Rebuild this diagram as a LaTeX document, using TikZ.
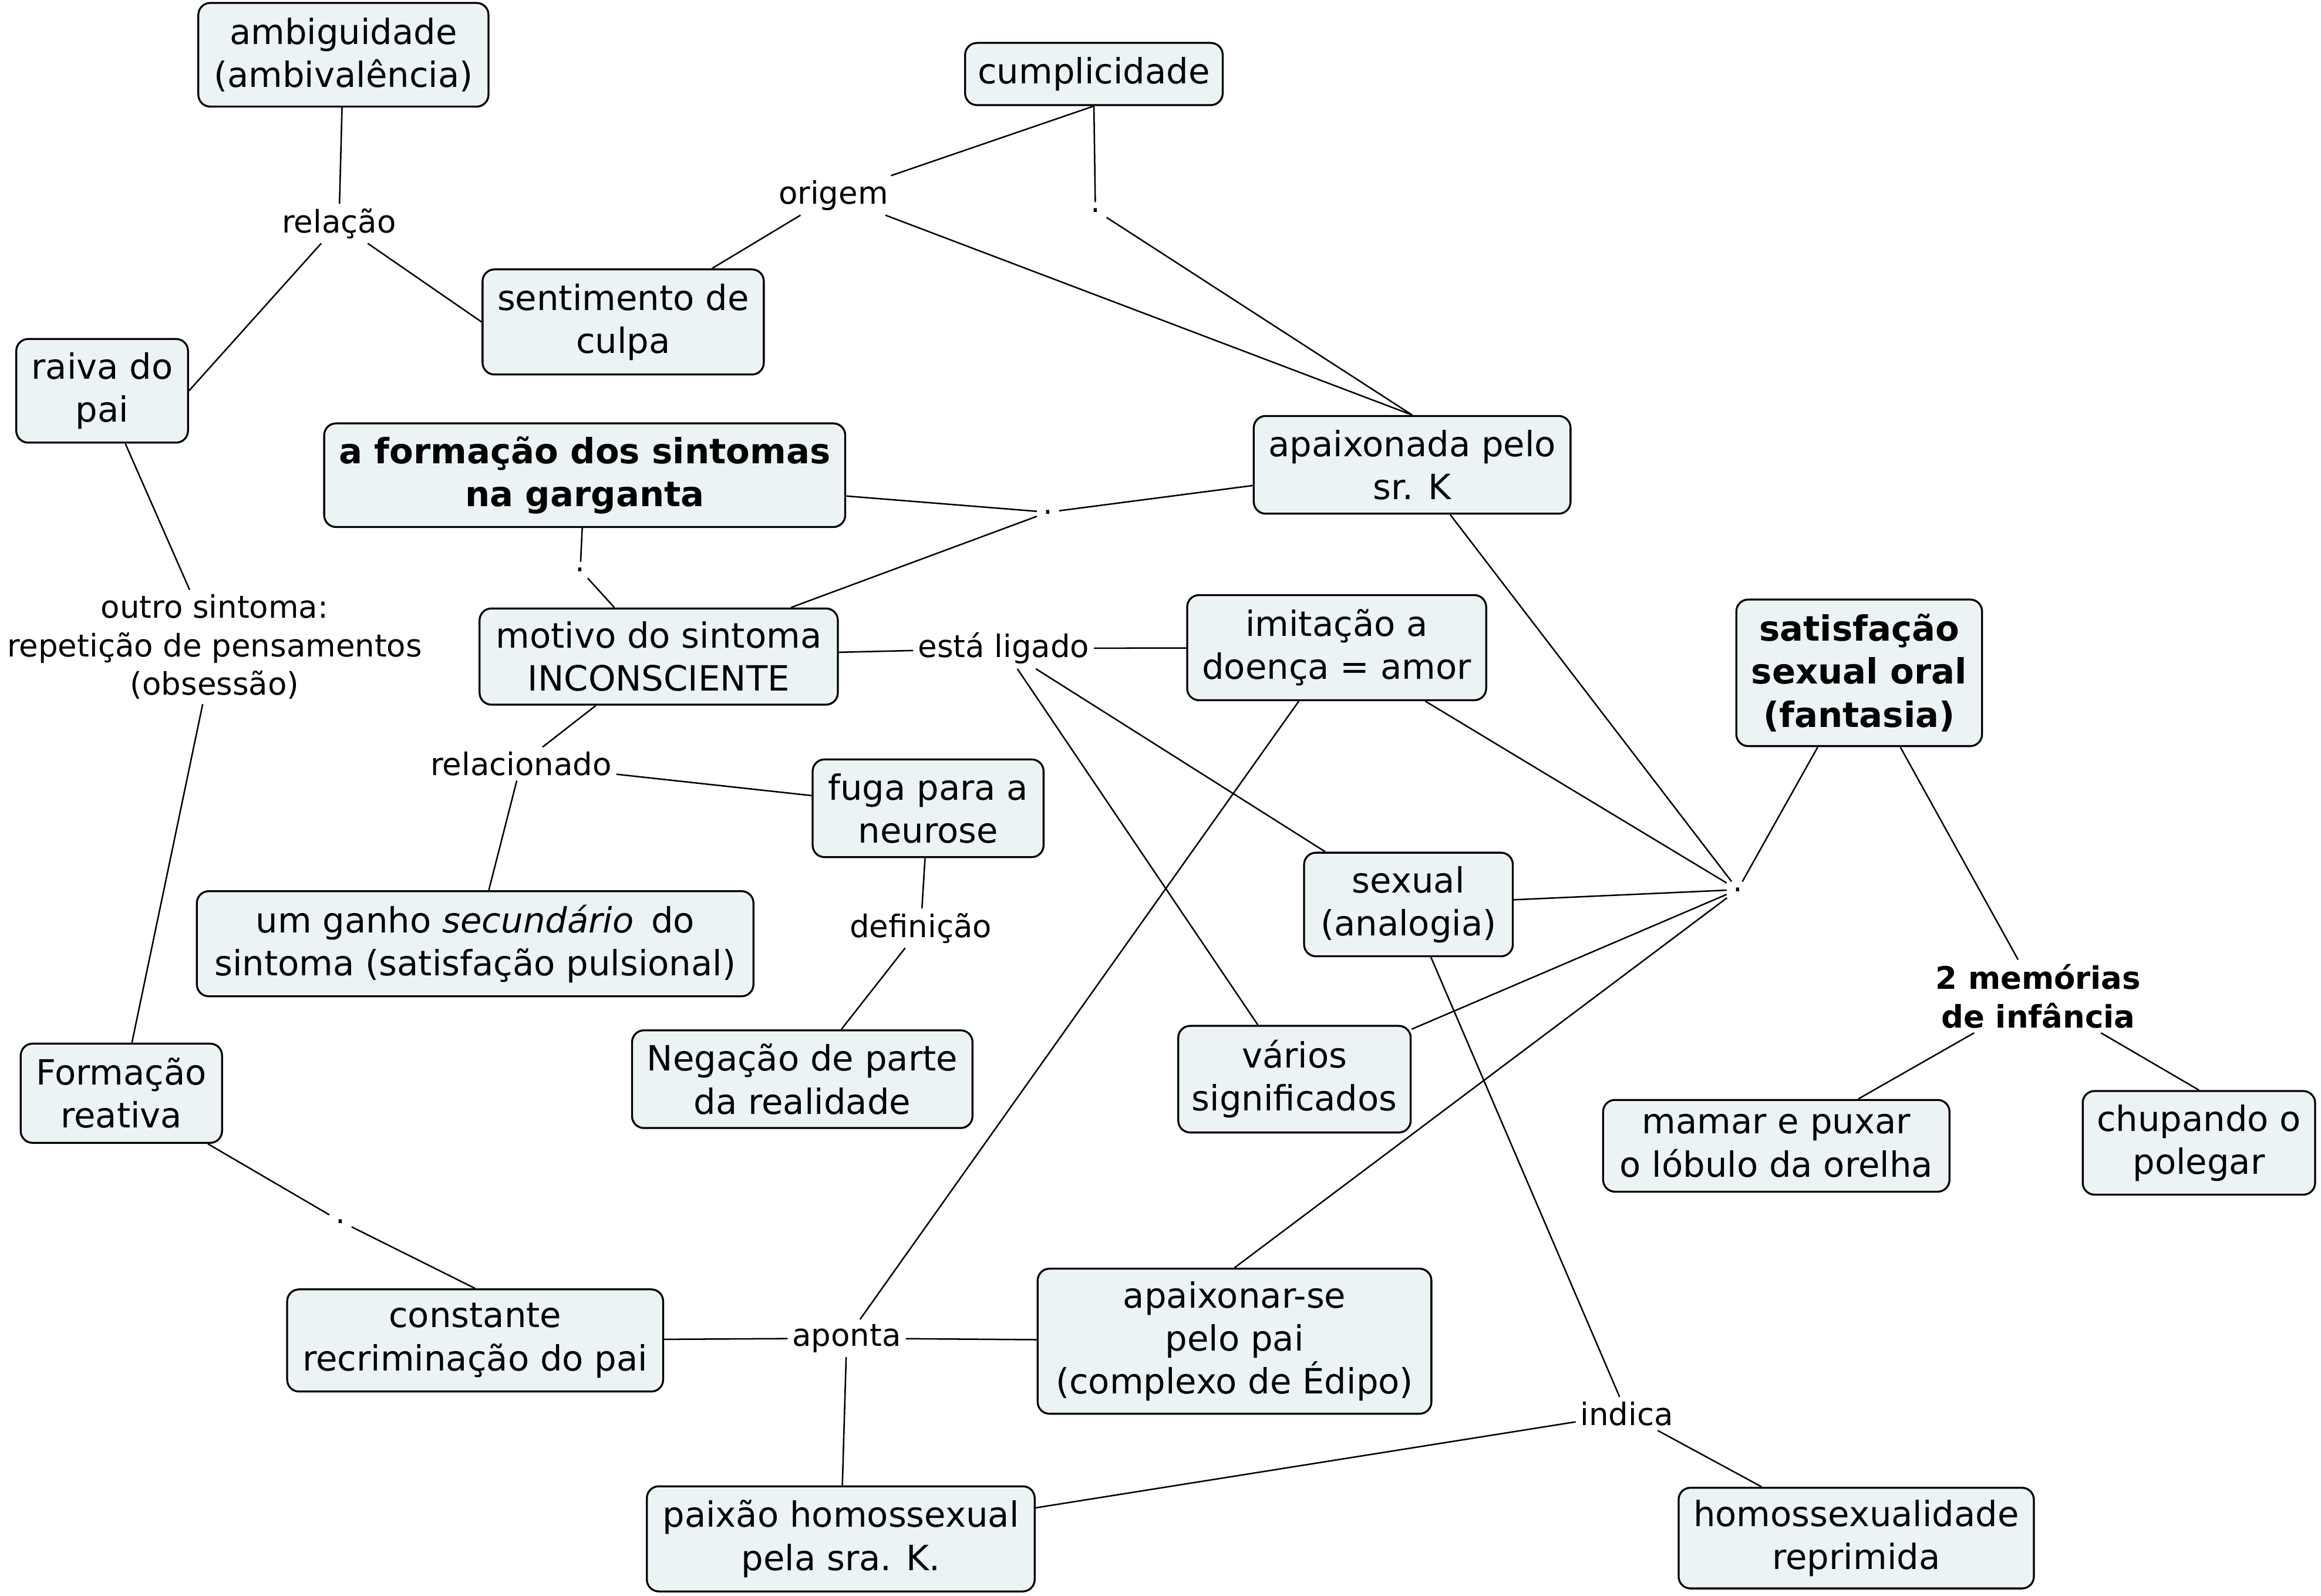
\documentclass[tikz,border=0pt]{standalone}
\usepackage{fontspec}
\setmainfont{DejaVu Sans}
\definecolor{cfill}{RGB}{236,243,245}
\tikzset{
 concept/.style={draw=black, line width=1.3pt, rounded corners=8pt, fill=cfill, align=center, inner sep=2pt, font=\fontsize{23.5}{29}\selectfont},
 bconcept/.style={concept, font=\fontsize{23.5}{29}\selectfont\bfseries},
 lbl/.style={inner sep=3pt, align=center, font=\fontsize{21}{26}\selectfont},
 blbl/.style={lbl, font=\fontsize{21}{26}\selectfont\bfseries},
 dotlbl/.style={inner sep=4pt, font=\fontsize{21}{26}\selectfont},
 conn/.style={draw=black, line width=1pt},
}
\begin{document}
\begin{tikzpicture}[x=1pt,y=-1pt]
\useasboundingbox (0,0) rectangle (1568,1078);
\fill[white] (0,0) rectangle (1568,1078);
% concepts
\node[concept, minimum width=196pt, minimum height=70pt] (amb) at (232,37) {ambiguidade\\(ambivalência)};
\node[concept, minimum width=174pt, minimum height=42pt] (cump) at (739,50) {cumplicidade};
\node[concept, minimum width=190pt, minimum height=71pt] (sent) at (421,217.5) {sentimento de\\culpa};
\node[concept, minimum width=116pt, minimum height=70pt] (raiva) at (69,264) {raiva do\\pai};
\node[bconcept, minimum width=352pt, minimum height=70pt] (form) at (395,321) {a formação dos sintomas\\na garganta};
\node[concept, minimum width=214pt, minimum height=66pt] (apx) at (954,314) {apaixonada pelo\\sr. K};
\node[concept, minimum width=242pt, minimum height=65pt] (motivo) at (445,443.5) {motivo do sintoma\\INCONSCIENTE};
\node[concept, minimum width=202pt, minimum height=71pt] (imit) at (903,437.5) {imitação a\\doença = amor};
\node[bconcept, minimum width=166pt, minimum height=99pt] (satis) at (1256,454.5) {satisfação\\sexual oral\\(fantasia)};
\node[concept, minimum width=156pt, minimum height=66pt] (fuga) at (627,546) {fuga para a\\neurose};
\node[concept, minimum width=376pt, minimum height=71pt] (ganho) at (321,637.5) {um ganho \textit{secundário}\enspace do\\sintoma (satisfação pulsional)};
\node[concept, minimum width=141pt, minimum height=70pt] (sexual) at (951.5,611) {sexual\\(analogia)};
\node[concept, minimum width=230pt, minimum height=66pt] (neg) at (542,729) {Negação de parte\\da realidade};
\node[concept, minimum width=157pt, minimum height=72pt] (varios) at (874.5,729) {vários\\significados};
\node[concept, minimum width=136pt, minimum height=67pt] (formr) at (82,738.5) {Formação\\reativa};
\node[concept, minimum width=234pt, minimum height=62pt] (mamar) at (1200,774) {mamar e puxar\\o lóbulo da orelha};
\node[concept, minimum width=157pt, minimum height=70pt] (chup) at (1485.5,772) {chupando o\\polegar};
\node[concept, minimum width=254pt, minimum height=69pt] (const) at (321,905.5) {constante\\recriminação do pai};
\node[concept, minimum width=266pt, minimum height=98pt] (apxpai) at (834,906) {apaixonar-se\\pelo pai\\(complexo de Édipo)};
\node[concept, minimum width=262pt, minimum height=71pt] (paixao) at (568,1039.5) {paixão homossexual\\pela sra. K.};
\node[concept, minimum width=240pt, minimum height=68pt] (homo) at (1254,1039) {homossexualidade\\reprimida};
% linking labels
\node[lbl] (relacao) at (229,151) {relação};
\node[lbl] (origem) at (563,132) {origem};
\node[dotlbl] (d1) at (740,142) {.};
\node[dotlbl] (d2) at (708,346) {.};
\node[dotlbl] (d3) at (392,385) {.};
\node[dotlbl] (hub) at (1174,601) {.};
\node[dotlbl] (d4) at (230,825) {.};
\node[lbl] (outro) at (145,437) {outro sintoma:\\repetição de pensamentos\\(obsessão)};
\node[lbl] (esta) at (678,438) {está ligado};
\node[lbl] (relac) at (352,516) {relacionado};
\node[lbl] (defin) at (622,627) {definição};
\node[blbl] (mem) at (1377,673) {2 memórias\\de infância};
\node[lbl] (aponta) at (572,904) {aponta};
\node[lbl] (indica) at (1099,955) {indica};
% connectors
\draw[conn] (amb) -- (relacao);
\draw[conn] (relacao) -- (raiva.east);
\draw[conn] (relacao) -- (sent.west);
\draw[conn] (cump.south) -- (origem);
\draw[conn] (origem) -- (sent);
\draw[conn] (origem) -- (apx.north);
\draw[conn] (cump.south) -- (d1);
\draw[conn] (d1) -- (apx.north);
\draw[conn] (form) -- (d2);
\draw[conn] (d2) -- (apx);
\draw[conn] (d2) -- (motivo);
\draw[conn] (form) -- (d3);
\draw[conn] (d3) -- (motivo);
\draw[conn] (raiva) -- (outro);
\draw[conn] (outro) -- (formr);
\draw[conn] (motivo) -- (esta);
\draw[conn] (esta) -- (imit);
\draw[conn] (esta) -- (sexual);
\draw[conn] (esta) -- (varios);
\draw[conn] (motivo) -- (relac);
\draw[conn] (relac) -- (ganho);
\draw[conn] (relac) -- (fuga);
\draw[conn] (fuga) -- (defin);
\draw[conn] (defin) -- (neg);
\draw[conn] (imit) -- (aponta);
\draw[conn] (const) -- (aponta);
\draw[conn] (aponta) -- (apxpai);
\draw[conn] (aponta) -- (paixao);
\draw[conn] (imit) -- (hub);
\draw[conn] (apx) -- (hub);
\draw[conn] (sexual) -- (hub);
\draw[conn] (varios) -- (hub);
\draw[conn] (apxpai.north) -- (hub);
\draw[conn] (satis) -- (hub);
\draw[conn] (satis) -- (mem);
\draw[conn] (mem) -- (mamar);
\draw[conn] (mem) -- (chup.north);
\draw[conn] (formr) -- (d4);
\draw[conn] (d4) -- (const.north);
\draw[conn] (sexual) -- (indica);
\draw[conn] (indica) -- (homo);
\draw[conn] (paixao) -- (indica);
\end{tikzpicture}
\end{document}
